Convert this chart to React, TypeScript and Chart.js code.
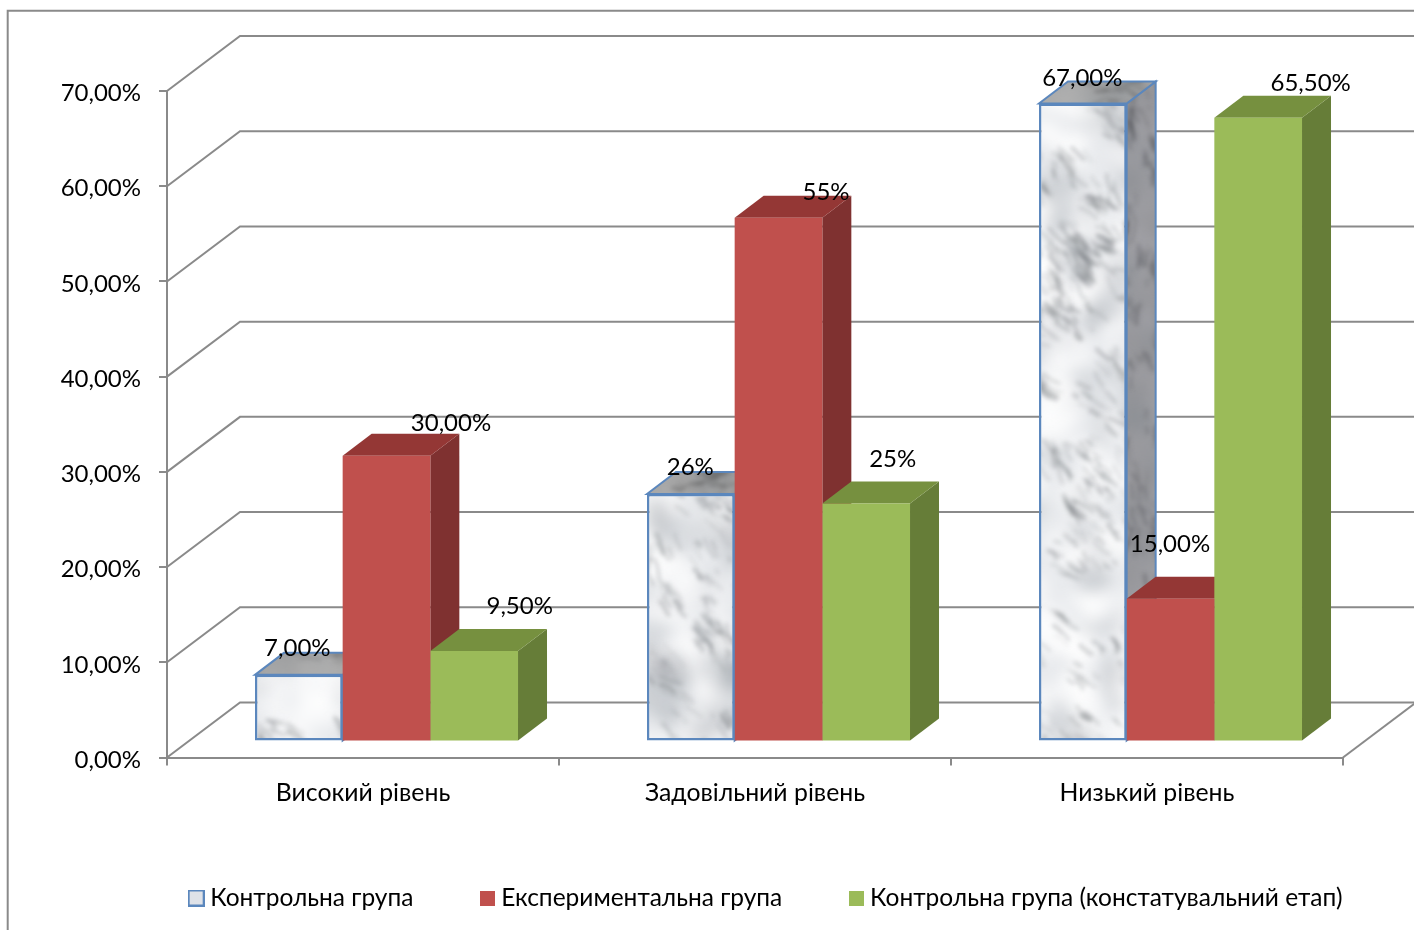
import React, { useEffect, useRef } from "react";
import { Chart, registerables } from "chart.js";

Chart.register(...registerables);

const categories = ["Високий рівень", "Задовільний рівень", "Низький рівень"];
const seriesNames = [
  "Контрольна група",
  "Експериментальна група",
  "Контрольна група (констатувальний етап)",
];
const controlValues = [7, 26, 67];
const experimentalValues = [30, 55, 15];
const baselineValues = [9.5, 25, 65.5];
const controlLabels = ["7,00%", "26%", "67,00%"];
const experimentalLabels = ["30,00%", "55%", "15,00%"];
const baselineLabels = ["9,50%", "25%", "65,50%"];

const FONT = "Lato, 'Open Sans', sans-serif";
const AXIS_GREY = "#8a8a8a";
const EDGE_BLUE = "#5b87bd";
const WIDTH = 1414;
const HEIGHT = 930;

// Projection of the 3D box: wall depth, bar plane offset and bar depth.
const WALL = { dx: 73, dy: -55 };
const PLANE = { dx: 23.5, dy: -16 };
const BAR = { dx: 29, dy: -22 };

// Label nudges from each bar's top centre, one row per series.
const labelNudges = [
  [[-1.5, -27], [-0.5, -27], [-0.5, -25]],
  [[64.5, -33], [47.5, -26], [-0.5, -54]],
  [[45.5, -45], [26.5, -44], [52.5, -35]],
];

const SIDE_SHADES = ["", "#7f3130", "#667d38"];
const TOP_SHADES = ["", "#943735", "#76903f"];

// Cloudy marble tile used by the first series; large enough to show no seams.
function marbleTile(
  base: string,
  vein: string,
  cloudLight: string,
  w: number,
  h: number,
  angle: number,
  alpha: number
) {
  let s = 20231;
  const rnd = () => {
    s = (s * 16807) % 2147483647;
    return s / 2147483647;
  };
  const layer = () => {
    const l = document.createElement("canvas");
    l.width = w;
    l.height = h;
    return l;
  };
  const clouds = layer();
  const cg = clouds.getContext("2d")!;
  for (let i = 0; i < (w * h) / 600; i++) {
    cg.fillStyle = rnd() > 0.45 ? cloudLight : "rgba(130,135,140,0.14)";
    cg.beginPath();
    cg.ellipse(rnd() * w, rnd() * h, 8 + rnd() * 24, 6 + rnd() * 16, rnd() * 3, 0, Math.PI * 2);
    cg.fill();
  }
  const veins = layer();
  const vg = veins.getContext("2d")!;
  vg.strokeStyle = vein;
  vg.lineCap = "round";
  // Veins gather in small clusters rather than spreading evenly.
  for (let c = 0; c < (w * h) / 1500; c++) {
    const cx = rnd() * w;
    const cy = rnd() * h;
    const n = 4 + Math.floor(rnd() * 12);
    const spread = 6 + rnd() * 20;
    const a0 = angle + (rnd() - 0.5) * 0.7;
    for (let i = 0; i < n; i++) {
      const x = cx + (rnd() - 0.5) * spread * 2;
      const y = cy + (rnd() - 0.5) * spread * 2;
      const len = 4 + rnd() * 18;
      const a = a0 + (rnd() - 0.5) * 0.6;
      vg.globalAlpha = alpha * (0.15 + rnd() * 0.85);
      vg.lineWidth = 1 + rnd() * 3;
      vg.beginPath();
      vg.moveTo(x, y);
      vg.quadraticCurveTo(
        x + Math.cos(a) * len * 0.5 + (rnd() - 0.5) * 6,
        y + Math.sin(a) * len * 0.5 + (rnd() - 0.5) * 6,
        x + Math.cos(a) * len,
        y + Math.sin(a) * len
      );
      vg.stroke();
    }
  }
  const out = layer();
  const g = out.getContext("2d")!;
  g.fillStyle = base;
  g.fillRect(0, 0, w, h);
  g.filter = "blur(7px)";
  g.drawImage(clouds, 0, 0);
  g.filter = "blur(2.2px)";
  g.drawImage(veins, 0, 0);
  g.filter = "none";
  return out;
}

function swatch(size: number, fill: string, stroke?: string) {
  const c = document.createElement("canvas");
  c.width = size;
  c.height = size;
  const g = c.getContext("2d")!;
  g.fillStyle = fill;
  g.fillRect(0, 0, size, size);
  if (stroke) {
    g.strokeStyle = stroke;
    g.lineWidth = 2;
    g.strokeRect(1, 1, size - 2, size - 2);
  }
  return c;
}

function polygon(ctx: CanvasRenderingContext2D, pts: number[][]) {
  ctx.beginPath();
  pts.forEach(([x, y], i) => (i ? ctx.lineTo(x, y) : ctx.moveTo(x, y)));
  ctx.closePath();
}

export default function App() {
  const ref = useRef<HTMLCanvasElement>(null);

  useEffect(() => {
    const canvas = ref.current!;
    const ctx0 = canvas.getContext("2d")!;
    const frontPattern = ctx0.createPattern(
      marbleTile("#e9ebee", "#73777b", "rgba(255,255,255,0.5)", 1414, 800, 0.85, 0.42),
      "repeat"
    )!;
    const sidePattern = ctx0.createPattern(
      marbleTile("#97979b", "#505156", "rgba(170,170,175,0.2)", 1414, 800, 1.5, 0.5),
      "repeat"
    )!;
    const topPattern = ctx0.createPattern(
      marbleTile("#a4a4a4", "#666666", "rgba(190,190,190,0.2)", 1414, 800, 0.05, 0.65),
      "repeat"
    )!;

    const legendMarks = [
      swatch(17, "#dfe2e8", EDGE_BLUE),
      swatch(15, "#c0504d"),
      swatch(15, "#9bbb59"),
    ];
    const allLabels = [controlLabels, experimentalLabels, baselineLabels];

    const box3d = {
      id: "box3d",
      // Outer frame of the chart object.
      beforeDraw(chart: any) {
        const { ctx } = chart;
        ctx.save();
        ctx.fillStyle = "#ffffff";
        ctx.fillRect(0, 0, WIDTH, HEIGHT);
        ctx.strokeStyle = AXIS_GREY;
        ctx.lineWidth = 2;
        ctx.beginPath();
        ctx.moveTo(7.7, HEIGHT);
        ctx.lineTo(7.7, 10.7);
        ctx.lineTo(WIDTH, 10.7);
        ctx.stroke();
        ctx.restore();
      },
      afterLayout(chart: any) {
        // The legend sits right of the canvas centre, low in the frame.
        const lg = chart.legend;
        lg.left += 97;
        lg.right += 97;
        const h = lg.height;
        lg.top = 867 - h / 2;
        lg.bottom = lg.top + h;
      },
      beforeDatasetsDraw(chart: any) {
        const { ctx, scales } = chart;
        const y = scales.y;
        const x = scales.x;
        ctx.save();
        ctx.strokeStyle = AXIS_GREY;
        ctx.lineWidth = 2;
        // Side wall and back wall gridlines.
        for (const v of y.ticks.map((t: any) => t.value)) {
          const py = y.getPixelForValue(v);
          ctx.beginPath();
          ctx.moveTo(x.left, py);
          ctx.lineTo(x.left + WALL.dx, py + WALL.dy);
          ctx.lineTo(WIDTH, py + WALL.dy);
          ctx.stroke();
        }
        // Open right edge of the floor.
        const fy = y.getPixelForValue(0);
        ctx.beginPath();
        ctx.moveTo(x.right, fy);
        ctx.lineTo(x.right + WALL.dx, fy + WALL.dy);
        ctx.stroke();

        ctx.translate(PLANE.dx, PLANE.dy);
        // Extruded faces go first; the fronts are then painted by the bar elements.
        chart.data.datasets.forEach((_: any, i: number) => {
          chart.getDatasetMeta(i).data.forEach((bar: any) => {
            const x1 = bar.x - bar.width / 2;
            const x2 = bar.x + bar.width / 2;
            const top = [
              [x1, bar.y],
              [x1 + BAR.dx, bar.y + BAR.dy],
              [x2 + BAR.dx, bar.y + BAR.dy],
              [x2, bar.y],
            ];
            const side = [
              [x2, bar.y],
              [x2 + BAR.dx, bar.y + BAR.dy],
              [x2 + BAR.dx, bar.base + BAR.dy],
              [x2, bar.base],
            ];
            polygon(ctx, side);
            ctx.fillStyle = i === 0 ? sidePattern : SIDE_SHADES[i];
            ctx.fill();
            if (i === 0) {
              ctx.strokeStyle = EDGE_BLUE;
              ctx.lineWidth = 2;
              ctx.stroke();
            }
            polygon(ctx, top);
            ctx.fillStyle = i === 0 ? topPattern : TOP_SHADES[i];
            ctx.fill();
            if (i === 0) ctx.stroke();
          });
        });
      },
      afterDatasetsDraw(chart: any) {
        const { ctx } = chart;
        ctx.restore();
        ctx.save();
        ctx.font = `24px ${FONT}`;
        ctx.fillStyle = "#000000";
        ctx.textAlign = "center";
        ctx.textBaseline = "middle";
        allLabels.forEach((labels, i) => {
          chart.getDatasetMeta(i).data.forEach((bar: any, j: number) => {
            const [nx, ny] = labelNudges[i][j];
            ctx.fillText(labels[j], bar.x + PLANE.dx + nx, bar.y + PLANE.dy + ny);
          });
        });
        ctx.restore();
      },
    };

    const common = { categoryPercentage: 0.671, barPercentage: 1, clip: false as any };
    const chart = new Chart(canvas, {
      type: "bar",
      data: {
        labels: categories,
        datasets: [
          { label: seriesNames[0], data: controlValues, backgroundColor: frontPattern as any, borderColor: EDGE_BLUE, borderWidth: 2.5, borderSkipped: false, ...common },
          { label: seriesNames[1], data: experimentalValues, backgroundColor: "#c0504d", borderWidth: 0, ...common },
          { label: seriesNames[2], data: baselineValues, backgroundColor: "#9bbb59", borderWidth: 0, ...common },
        ],
      },
      options: {
        responsive: false,
        animation: false,
        layout: { padding: { top: 91, left: 0, right: 71, bottom: 0 } },
        font: { family: FONT },
        scales: {
          x: {
            grid: { offset: true, drawOnChartArea: false, drawTicks: true, tickLength: 8, color: AXIS_GREY, lineWidth: 2 },
            border: { display: true, color: AXIS_GREY, width: 2 },
            ticks: { color: "#000000", font: { family: FONT, size: 24.8 }, padding: 13, maxRotation: 0 },
            afterFit(scale: any) {
              scale.height = 66;
            },
          },
          y: {
            min: 0,
            max: 70,
            grid: { drawOnChartArea: false, drawTicks: true, tickLength: 8, color: AXIS_GREY, lineWidth: 2 },
            border: { display: true, color: AXIS_GREY, width: 2 },
            ticks: {
              stepSize: 10,
              color: "#000000",
              font: { family: FONT, size: 24 },
              padding: 18,
              labelOffset: 2.5,
              callback: (v: any) => Number(v).toFixed(2).replace(".", ",") + "%",
            },
            afterFit(scale: any) {
              scale.width = 167;
            },
          },
        },
        plugins: {
          title: { display: false },
          tooltip: { enabled: false },
          legend: {
            display: true,
            position: "bottom",
            labels: {
              color: "#000000",
              font: { family: FONT, size: 24.5 },
              usePointStyle: true,
              pointStyleWidth: 3.5,
              padding: 72,
              generateLabels: () =>
                seriesNames.map((text, i) => ({
                  text,
                  fillStyle: "#ffffff",
                  strokeStyle: "#ffffff",
                  lineWidth: 1,
                  pointStyle: legendMarks[i] as any,
                  datasetIndex: i,
                  hidden: false,
                })),
            },
          },
        },
      } as any,
      plugins: [box3d as any],
    });
    return () => chart.destroy();
  }, []);

  return (
    <div style={{ position: "absolute", left: 0, top: 0, background: "#fff" }}>
      <canvas ref={ref} width={WIDTH} height={HEIGHT} style={{ display: "block" }} />
    </div>
  );
}
